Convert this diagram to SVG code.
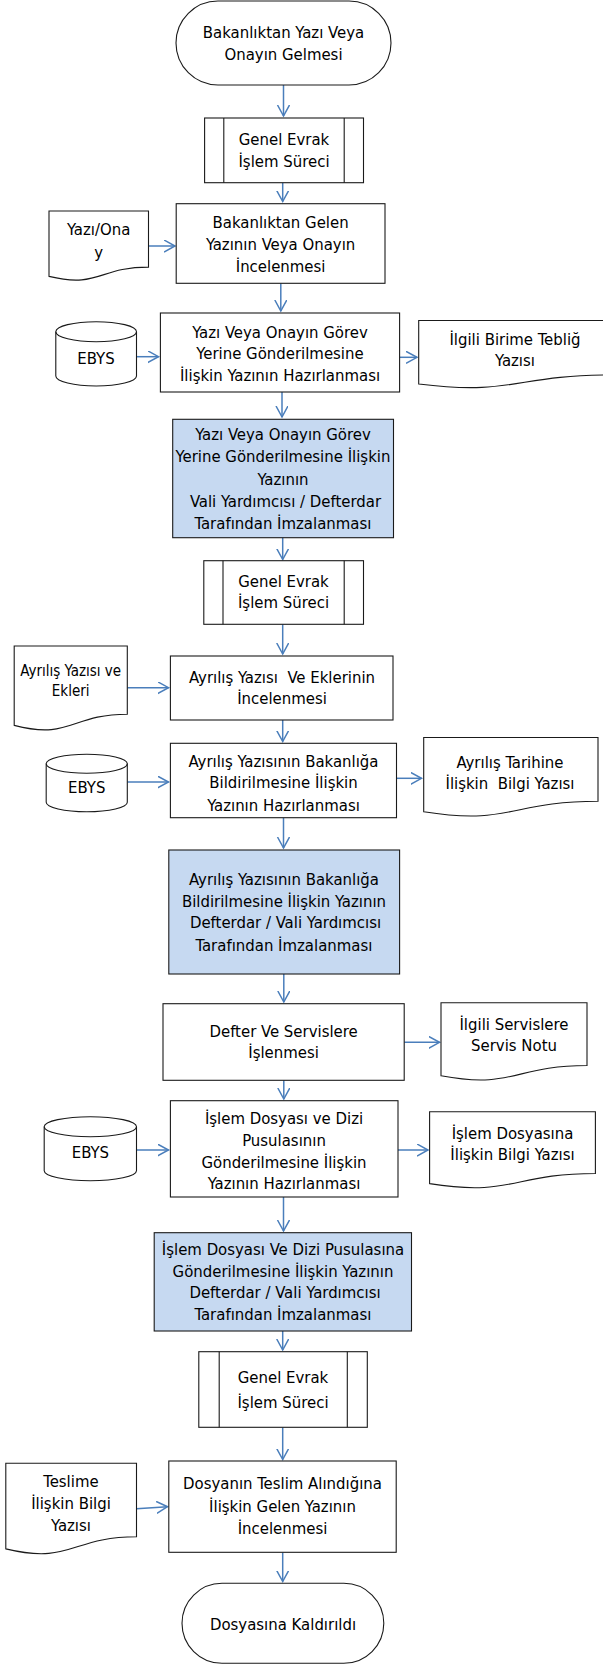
<svg xmlns="http://www.w3.org/2000/svg" width="603" height="1664" viewBox="0 0 603 1664">
<defs>
<marker id="ah" markerUnits="userSpaceOnUse" markerWidth="14" markerHeight="14" refX="11" refY="6" orient="auto">
<path d="M0,0 L11,6 L0,12" fill="none" stroke="#4A7EBB" stroke-width="1.5"/>
</marker>
<style>
.n{fill:#fff;stroke:#1a1a1a;stroke-width:1.1}
.b{fill:#C6D9F1;stroke:#1a1a1a;stroke-width:1.1}
.l{fill:none;stroke:#1a1a1a;stroke-width:1.1}
text{font-family:"DejaVu Sans Condensed","DejaVu Sans",sans-serif;font-stretch:condensed;font-size:16.6px;fill:#000;text-anchor:middle;white-space:pre}
.s{font-size:15px}
.c{fill:none;stroke:#4A7EBB;stroke-width:1.5;marker-end:url(#ah)}
</style>
</defs>
<rect width="603" height="1664" fill="#fff"/>

<g id="connectors">
<path class="c" d="M283.5,85 V116"/>
<path class="c" d="M282.7,182.7 V201.5"/>
<path class="c" d="M148.5,246 H175"/>
<path class="c" d="M280.8,283.3 V311"/>
<path class="c" d="M136.5,356.7 H158.5"/>
<path class="c" d="M399.6,357.3 H417"/>
<path class="c" d="M282,392 V417"/>
<path class="c" d="M282.7,537.7 V559.5"/>
<path class="c" d="M282.7,624.3 V654"/>
<path class="c" d="M127.3,687.7 H168.5"/>
<path class="c" d="M282.7,720 V741.5"/>
<path class="c" d="M127.3,782 H168.5"/>
<path class="c" d="M396.5,778.3 H421.5"/>
<path class="c" d="M283.5,817.7 V848"/>
<path class="c" d="M283.8,974 V1002"/>
<path class="c" d="M404.2,1042.3 H439.5"/>
<path class="c" d="M283.8,1080.3 V1099"/>
<path class="c" d="M136.5,1150 H168.5"/>
<path class="c" d="M398,1150 H428"/>
<path class="c" d="M283.5,1197 V1231"/>
<path class="c" d="M282.7,1331 V1350"/>
<path class="c" d="M282.7,1427.3 V1459.5"/>
<path class="c" d="M136.5,1508.7 L167.5,1506.7"/>
<path class="c" d="M282.7,1552.3 V1581.5"/>
</g>

<g id="start">
<rect class="n" x="176" y="1" width="215" height="84" rx="42" ry="42"/>
<text x="283.5" y="38">Bakanlıktan Yazı Veya</text>
<text x="283.5" y="59.7">Onayın Gelmesi</text>
</g>

<g id="genel-evrak-1">
<rect class="n" x="204.6" y="118" width="158.9" height="64.7"/>
<path class="l" d="M223.8,118 V182.7 M344.2,118 V182.7"/>
<text x="284" y="144.7">Genel Evrak</text>
<text x="284" y="166.7">İşlem Süreci</text>
</g>

<g id="doc-yazi-onay">
<path class="n" d="M49,211 H148.5 V267.1 C98.8,267.1 98.8,288.5 49,276.4 Z"/>
<text x="98.7" y="235.2">Yazı/Ona</text>
<text x="98.7" y="257.7">y</text>
</g>

<g id="inceleme-1">
<rect class="n" x="176.2" y="203.7" width="208.8" height="79.6"/>
<text x="280.6" y="228.2">Bakanlıktan Gelen</text>
<text x="280.6" y="250.2">Yazının Veya Onayın</text>
<text x="280.6" y="272.2">İncelenmesi</text>
</g>

<g id="ebys-1">
<path class="n" d="M55.8,331.7 A40.35,10 0 0 1 136.5,331.7 V376 A40.35,10 0 0 1 55.8,376 Z"/>
<path class="l" d="M55.8,331.7 A40.35,10 0 0 0 136.5,331.7"/>
<text x="96" y="363.7">EBYS</text>
</g>

<g id="hazirlama-1">
<rect class="n" x="160.4" y="313" width="239.2" height="79"/>
<text x="280" y="337.7">Yazı Veya Onayın Görev</text>
<text x="280" y="359.2">Yerine Gönderilmesine</text>
<text x="280" y="380.7">İlişkin Yazının Hazırlanması</text>
</g>

<g id="doc-teblig">
<path class="n" d="M418.7,320.5 H610.7 V375 C514.7,375 514.7,395.8 418.7,384 Z"/>
<text x="515" y="345">İlgili Birime Tebliğ</text>
<text x="515" y="366">Yazısı</text>
</g>

<g id="imza-1">
<rect class="b" x="172.7" y="419.3" width="220.8" height="118.4"/>
<text x="283" y="440.2">Yazı Veya Onayın Görev</text>
<text x="283" y="462.2">Yerine Gönderilmesine İlişkin</text>
<text x="283" y="484.7">Yazının</text>
<text x="285.5" y="506.7">Vali Yardımcısı / Defterdar</text>
<text x="283" y="529.2">Tarafından İmzalanması</text>
</g>

<g id="genel-evrak-2">
<rect class="n" x="203.8" y="560.7" width="159.7" height="63.6"/>
<path class="l" d="M223,560.7 V624.3 M344.2,560.7 V624.3"/>
<text x="283.5" y="586.7">Genel Evrak</text>
<text x="283.5" y="608.2">İşlem Süreci</text>
</g>

<g id="doc-ayrilis-ekleri">
<path class="n" d="M14.2,646 H127.3 V714.2 C70.7,714.2 70.7,740.1 14.2,725.4 Z"/>
<text class="s" x="70.7" y="676">Ayrılış Yazısı ve</text>
<text class="s" x="70.7" y="696">Ekleri</text>
</g>

<g id="inceleme-2">
<rect class="n" x="170.4" y="656" width="222.6" height="64"/>
<text x="282" y="683.2">Ayrılış Yazısı  Ve Eklerinin</text>
<text x="282" y="704.2">İncelenmesi</text>
</g>

<g id="ebys-2">
<path class="n" d="M46.2,763.8 A40.55,9.5 0 0 1 127.3,763.8 V802.2 A40.55,9.5 0 0 1 46.2,802.2 Z"/>
<path class="l" d="M46.2,763.8 A40.55,9.5 0 0 0 127.3,763.8"/>
<text x="86.7" y="793.2">EBYS</text>
</g>

<g id="hazirlama-2">
<rect class="n" x="170.4" y="743.3" width="226.1" height="74.4"/>
<text x="283.5" y="766.7">Ayrılış Yazısının Bakanlığa</text>
<text x="283.5" y="788.2">Bildirilmesine İlişkin</text>
<text x="283.5" y="810.7">Yazının Hazırlanması</text>
</g>

<g id="doc-ayrilis-tarihi">
<path class="n" d="M423.7,737.5 H598 V801.3 C510.9,801.3 510.9,825.5 423.7,811.8 Z"/>
<text x="510" y="767.5">Ayrılış Tarihine</text>
<text x="510" y="789">İlişkin  Bilgi Yazısı</text>
</g>

<g id="imza-2">
<rect class="b" x="168.8" y="850" width="230.8" height="124"/>
<text x="284" y="885.2">Ayrılış Yazısının Bakanlığa</text>
<text x="284" y="906.7">Bildirilmesine İlişkin Yazının</text>
<text x="285.5" y="928.2">Defterdar / Vali Yardımcısı</text>
<text x="284" y="950.7">Tarafından İmzalanması</text>
</g>

<g id="defter">
<rect class="n" x="163" y="1003.7" width="241.2" height="76.6"/>
<text x="283.6" y="1036.7">Defter Ve Servislere</text>
<text x="283.6" y="1058.2">İşlenmesi</text>
</g>

<g id="doc-servis-notu">
<path class="n" d="M441,1002.7 H587 V1065.5 C514,1065.5 514,1089.4 441,1075.8 Z"/>
<text x="514" y="1029.7">İlgili Servislere</text>
<text x="514" y="1051.2">Servis Notu</text>
</g>

<g id="ebys-3">
<path class="n" d="M44.2,1126.7 A46.15,10 0 0 1 136.5,1126.7 V1170.7 A46.15,10 0 0 1 44.2,1170.7 Z"/>
<path class="l" d="M44.2,1126.7 A46.15,10 0 0 0 136.5,1126.7"/>
<text x="90.4" y="1158">EBYS</text>
</g>

<g id="hazirlama-3">
<rect class="n" x="170.4" y="1100.7" width="227.6" height="96.3"/>
<text x="284" y="1123.7">İşlem Dosyası ve Dizi</text>
<text x="284" y="1145.7">Pusulasının</text>
<text x="284" y="1167.7">Gönderilmesine İlişkin</text>
<text x="284" y="1189.2">Yazının Hazırlanması</text>
</g>

<g id="doc-islem-dosyasi">
<path class="n" d="M429.6,1111.7 H595.4 V1173.5 C512.5,1173.5 512.5,1197 429.6,1183.6 Z"/>
<text x="512.5" y="1139.2">İşlem Dosyasına</text>
<text x="512.5" y="1160.2">İlişkin Bilgi Yazısı</text>
</g>

<g id="imza-3">
<rect class="b" x="154.2" y="1232.7" width="257.3" height="98.3"/>
<text x="283" y="1254.7">İşlem Dosyası Ve Dizi Pusulasına</text>
<text x="283" y="1276.7">Gönderilmesine İlişkin Yazının</text>
<text x="285" y="1298.2">Defterdar / Vali Yardımcısı</text>
<text x="283" y="1320.2">Tarafından İmzalanması</text>
</g>

<g id="genel-evrak-3">
<rect class="n" x="198.8" y="1351.7" width="168.5" height="75.6"/>
<path class="l" d="M219.2,1351.7 V1427.3 M347.3,1351.7 V1427.3"/>
<text x="283" y="1383.2">Genel Evrak</text>
<text x="283" y="1408.2">İşlem Süreci</text>
</g>

<g id="doc-teslim">
<path class="n" d="M5.8,1463.3 H136.5 V1536.8 C71.2,1536.8 71.2,1564.7 5.8,1548.9 Z"/>
<text x="71" y="1486.7">Teslime</text>
<text x="71" y="1509.2">İlişkin Bilgi</text>
<text x="71" y="1531.2">Yazısı</text>
</g>

<g id="inceleme-3">
<rect class="n" x="168.8" y="1461" width="227.4" height="91.3"/>
<text x="282.5" y="1489.2">Dosyanın Teslim Alındığına</text>
<text x="282.5" y="1511.7">İlişkin Gelen Yazının</text>
<text x="282.5" y="1534.2">İncelenmesi</text>
</g>

<g id="end">
<rect class="n" x="182" y="1583.3" width="201.8" height="80" rx="40" ry="40"/>
<text x="283" y="1630.2">Dosyasına Kaldırıldı</text>
</g>
</svg>
